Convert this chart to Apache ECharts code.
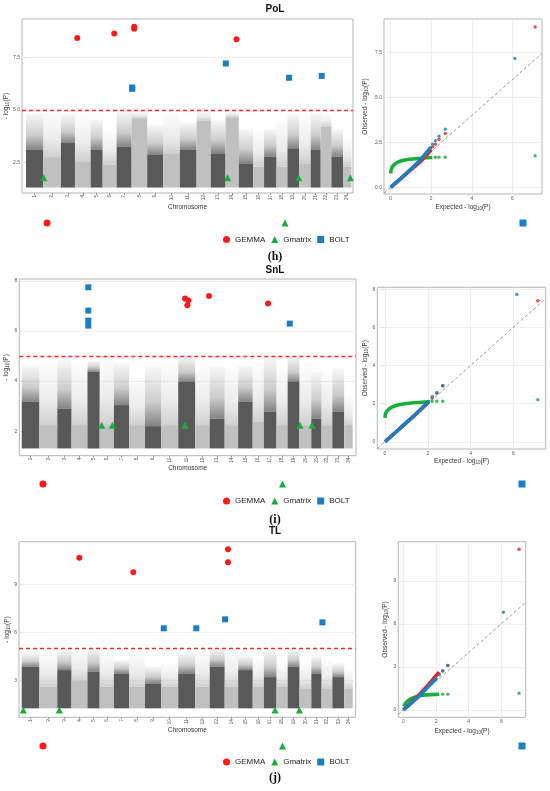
<!DOCTYPE html>
<html>
<head>
<meta charset="utf-8">
<script src="https://cdn.jsdelivr.net/npm/echarts@6/dist/echarts.min.js"></script>
<style>
  html, body { margin: 0; padding: 0; background: #fff; }
  #chart { width: 550px; height: 791px; }
</style>
</head>
<body>
<div id="chart"></div>
<script>
const chromosomes = [1, 2, 3, 4, 5, 6, 7, 8, 9, 10, 11, 12, 13, 14, 15, 16, 17, 18, 19, 20, 21, 22, 23, 24]
const chrLen = [173, 177, 140, 157, 120, 140, 150, 156, 160, 167, 167, 143, 147, 133, 143, 110, 124, 110, 116, 117, 100, 107, 116, 84]

// background SNP cloud per chromosome: top of the dense part and top of the sparse part
const densePoL = [3.09, 2.75, 3.42, 2.55, 3.09, 2.4, 3.24, 4.6, 2.85, 2.93, 3.09, 4.5, 2.93, 4.65, 2.45, 2.3, 2.77, 2.3, 3.17, 2.45, 3.09, 4.2, 2.77, 2.3]
const maxPoL = [4.85, 4.85, 4.8, 4.7, 4.55, 3.95, 4.95, 4.95, 4.27, 4.8, 4.4, 4.95, 4.5, 4.95, 4.1, 3.95, 4.1, 4.5, 4.8, 4.7, 4.85, 4.8, 4.1, 3.6]
const denseSnL = [3.17, 2.24, 2.9, 2.24, 4.36, 2.24, 3.04, 2.24, 2.2, 2.24, 3.96, 2.24, 2.5, 2.24, 3.17, 2.38, 2.77, 2.24, 3.96, 2.24, 2.5, 2.24, 2.77, 2.24]
const maxSnL = [4.63, 4.7, 4.83, 4.6, 4.8, 5.0, 4.7, 4.1, 4.6, 4.7, 5.0, 4.6, 4.6, 4.5, 4.6, 4.6, 5.0, 4.5, 5.0, 4.6, 4.36, 4.36, 4.5, 3.4]
const denseTL = [3.85, 2.6, 3.64, 3.0, 3.54, 2.6, 3.43, 2.6, 2.8, 2.6, 3.43, 2.6, 3.85, 2.6, 3.64, 2.6, 3.2, 2.6, 3.85, 2.5, 3.43, 2.5, 3.2, 2.5]
const maxTL = [4.69, 4.6, 4.9, 4.9, 5.0, 4.7, 4.27, 4.7, 3.85, 4.06, 4.7, 4.7, 5.0, 4.9, 4.5, 4.27, 4.9, 4.06, 4.9, 4.06, 4.5, 4.27, 4.06, 3.64]

// significant hits [genome position, -log10(P)]
const gemmaPoL = [[513, 8.43], [883, 8.64], [1083, 8.96], [1083, 8.86], [2107, 8.36]]
const boltPoL = [[1063, 6.07], [1063, 6.0], [2000, 7.21], [2633, 6.53], [2960, 6.62]]
const gmatrixPoL = [[177, 1.77], [2017, 1.77], [2730, 1.77], [3247, 1.77]]
const gemmaSnL = [[1607, 7.29], [1640, 7.21], [1630, 7.02], [1843, 7.39], [2425, 7.09]]
const boltSnL = [[655, 7.74], [655, 6.81], [655, 6.41], [655, 6.21], [2638, 6.29]]
const gmatrixSnL = [[787, 2.23], [892, 2.23], [1607, 2.23], [2739, 2.23], [2857, 2.23]]
const gemmaTL = [[567, 10.66], [1098, 9.75], [2030, 11.19], [2030, 10.37]]
const boltTL = [[1398, 6.25], [1718, 6.25], [2001, 6.81], [2959, 6.62]]
const gmatrixTL = [[16, 1.14], [370, 1.14], [2493, 1.14], [2732, 1.14]]

// QQ plots: dense part of each curve, then the separate tail points
const qqGemmaPoL = [[0, 0], [0.5, 0.48], [1, 0.98], [1.5, 1.47], [1.8, 1.84], [2.0, 2.1]]
const qqGemmaPoLTail = [[2.07, 2.26], [2.2, 2.4], [2.38, 2.66], [2.69, 3.0], [7.12, 8.92]]
const qqBoltPoL = [[0, 0], [0.5, 0.5], [1, 1.02], [1.5, 1.58], [1.8, 1.98], [2.0, 2.25]]
const qqBoltPoLTail = [[2.07, 2.4], [2.2, 2.59], [2.38, 2.85], [2.69, 3.24], [6.12, 7.17]]
const qqGmatrixPoL = [[0, 0.78], [0.03, 1.0], [0.12, 1.2], [0.35, 1.4], [0.7, 1.52], [1.1, 1.58], [1.6, 1.63], [2.05, 1.66]]
const qqGmatrixPoLTail = [[2.2, 1.67], [2.38, 1.67], [2.69, 1.67], [7.12, 1.76]]

const qqGemmaSnL = [[0, 0], [0.5, 0.5], [1, 1.0], [1.5, 1.5], [2.0, 2.03]]
const qqGemmaSnLTail = [[2.2, 2.3], [2.42, 2.55], [2.7, 2.95], [7.14, 7.4]]
const qqBoltSnL = [[0, 0], [0.5, 0.5], [1, 1.0], [1.5, 1.52], [2.05, 2.12]]
const qqBoltSnLTail = [[2.21, 2.37], [2.42, 2.58], [2.7, 2.93], [6.16, 7.72]]
const qqGmatrixSnL = [[0, 1.25], [0.02, 1.45], [0.1, 1.62], [0.3, 1.8], [0.7, 1.95], [1.2, 2.03], [1.7, 2.07], [2.1, 2.1]]
const qqGmatrixSnLTail = [[2.2, 2.12], [2.42, 2.12], [2.7, 2.13], [7.14, 2.2]]

const qqGemmaTL = [[0, 0], [0.5, 0.55], [1, 1.1], [1.5, 1.72], [2.0, 2.38], [2.2, 2.62]]
const qqGemmaTLTail = [[2.41, 2.72], [2.72, 3.1], [7.08, 11.2]]
const qqBoltTL = [[0, 0], [0.5, 0.5], [1, 1.02], [1.5, 1.6], [2.05, 2.25]]
const qqBoltTLTail = [[2.2, 2.45], [2.41, 2.73], [2.72, 3.1], [6.12, 6.8]]
const qqGmatrixTL = [[0.03, 0.25], [0.15, 0.5], [0.4, 0.75], [0.8, 0.93], [1.2, 1.02], [1.7, 1.07], [2.2, 1.1]]
const qqGmatrixTLTail = [[2.41, 1.1], [2.72, 1.1], [7.08, 1.16]]

// tick labels
const ticksPoL = [2.5, 5.0, 7.5]
const ticksSnL = [2, 4, 6, 8]
const ticksTL = [3, 6, 9]
const qqTicksPoL = [0, 2.5, 5.0, 7.5]
const qqTicksSnL = [0, 2, 4, 6, 8]
const qqTicksTL = [0, 3, 6, 9]
const qqTicksX = [0, 2, 4, 6]
const threshold = 5

const methods = ['GEMMA', 'Gmatrix', 'BOLT']
const colors = { GEMMA: '#ff1a1a', Gmatrix: '#1aad3c', BOLT: '#1b7ec2' }
const icons = { GEMMA: 'circle', Gmatrix: 'triangle', BOLT: 'rect' }
const FONT = 'Liberation Sans'

// cumulative chromosome spans
const chrStart = []
let acc = 0
chrLen.forEach(l => { chrStart.push(acc); acc += l })
const chrCenter = chrStart.map((s, i) => s + chrLen[i] / 2)

function blockRenderer(base) {
  return function (params, api) {
    const p0 = api.coord([api.value(0), base])
    const p1 = api.coord([api.value(1), api.value(2)])
    const p2 = api.coord([api.value(1), api.value(3)])
    const rgb = params.dataIndex % 2 === 0 ? '89,89,89' : '192,192,192'
    const w = p1[0] - p0[0]
    return {
      type: 'group',
      children: [
        {
          type: 'rect',
          shape: { x: p0[0], y: p2[1], width: w, height: p1[1] - p2[1] },
          style: {
            fill: new echarts.graphic.LinearGradient(0, 0, 0, 1, [
              { offset: 0, color: 'rgba(' + rgb + ',0.04)' },
              { offset: 0.6, color: 'rgba(' + rgb + ',0.3)' },
              { offset: 1, color: 'rgba(' + rgb + ',0.75)' }
            ])
          }
        },
        {
          type: 'rect',
          shape: { x: p0[0], y: p1[1], width: w, height: p0[1] - p1[1] },
          style: { fill: 'rgb(' + rgb + ')' }
        }
      ]
    }
  }
}

const grid = []
const xAxis = []
const yAxis = []
const series = []
const legend = []
const title = []

function gridLines(values, dim) {
  return {
    silent: true, z: 1, symbol: ['none', 'none'], animation: false,
    label: { show: false },
    lineStyle: { color: '#ebebeb', type: 'solid', width: 0.8 },
    data: values.map(v => ({ [dim]: v }))
  }
}

function axisName(text, extra) {
  return Object.assign({
    name: text,
    nameLocation: 'middle',
    nameMoveOverlap: false,
    nameTextStyle: {
      fontFamily: FONT, fontSize: 6.5, color: '#333',
      rich: { s: { fontFamily: FONT, fontSize: 4.5, color: '#333', padding: [3, 0, 0, 0] } }
    }
  }, extra)
}

function valueAxis(gi, min, max, ticks, digits, show, extra) {
  return Object.assign({
    type: 'value', gridIndex: gi, min: min, max: max,
    axisLine: { show: false },
    splitLine: { show: false },
    axisTick: { show: show, customValues: ticks, length: 2, lineStyle: { color: '#555', width: 0.6 } },
    axisLabel: {
      show: show, customValues: ticks, fontFamily: FONT, fontSize: 5, color: '#555', margin: 2,
      formatter: v => Number(v).toFixed(digits)
    }
  }, extra)
}

function boxGrid(rect) {
  return Object.assign({
    show: true, borderColor: '#b5b5b5', borderWidth: 1, backgroundColor: '#fff',
    outerBoundsMode: 'none', containLabel: false
  }, rect)
}

function addPanel(p) {
  // Manhattan
  const gm = grid.length
  grid.push(boxGrid(p.man))
  xAxis.push(valueAxis(gm, p.manX[0], p.manX[1], chrCenter, 0, true, axisName('Chromosome', { nameGap: p.gaps[1] })))
  xAxis[gm].axisLabel.formatter = v => {
    const i = chrCenter.findIndex(c => Math.abs(c - v) < 1e-6)
    return i < 0 ? '' : String(chromosomes[i])
  }
  xAxis[gm].axisLabel.rotate = 90
  xAxis[gm].axisLabel.fontSize = 4.5
  yAxis.push(valueAxis(gm, p.manY[0], p.manY[1], p.manTicks, p.digits, true,
    axisName('- log{s|10}(P)', { nameGap: p.gaps[0] })))

  series.push({
    type: 'custom', name: 'SNPs', xAxisIndex: gm, yAxisIndex: gm, silent: true,
    renderItem: blockRenderer(p.base),
    encode: { x: [0, 1], y: [2, 3] },
    data: chrStart.map((s, i) => [s, s + chrLen[i], p.dense[i], p.max[i]])
  })
  const hits = { GEMMA: p.gemma, Gmatrix: p.gmatrix, BOLT: p.bolt }
  methods.forEach(m => {
    const s = {
      type: 'scatter', name: m, xAxisIndex: gm, yAxisIndex: gm, z: 3,
      symbol: icons[m], symbolSize: m === 'Gmatrix' ? 7 : 6,
      itemStyle: { color: colors[m], opacity: 1 },
      data: hits[m]
    }
    if (m === 'GEMMA') s.markLine = gridLines(p.manTicks, 'yAxis')
    if (m === 'BOLT') {
      s.markLine = {
        silent: true, symbol: ['none', 'none'], animation: false, label: { show: false },
        lineStyle: { color: '#ff2a2a', type: [4, 3], width: 1.3 },
        data: [{ yAxis: threshold }]
      }
    }
    series.push(s)
  })

  // QQ
  const gq = grid.length
  grid.push(boxGrid(p.qq))
  xAxis.push(valueAxis(gq, p.qqX[0], p.qqX[1], qqTicksX, 0, true,
    axisName('Expected - log{s|10}(P)', { nameGap: p.gaps[3] })))
  yAxis.push(valueAxis(gq, p.qqY[0], p.qqY[1], p.qqTicks, p.digits, true,
    axisName('Observed - log{s|10}(P)', { nameGap: p.gaps[2] })))
  series.push({
    type: 'line', name: 'expected', xAxisIndex: gq, yAxisIndex: gq, silent: true, z: 2,
    symbol: 'none', data: [[p.qqX[0], p.qqX[0]], [p.qqX[1], p.qqX[1]]],
    lineStyle: { color: '#8a8a8a', type: [3, 2.5], width: 0.9 },
    markLine: {
      silent: true, z: 1, symbol: ['none', 'none'], animation: false, label: { show: false },
      lineStyle: { color: '#ebebeb', type: 'solid', width: 0.8 },
      data: p.qqTicks.map(v => ({ yAxis: v })).concat(qqTicksX.map(v => ({ xAxis: v })))
    }
  })
  const curves = { GEMMA: p.qqGemma, Gmatrix: p.qqGmatrix, BOLT: p.qqBolt }
  const tails = { GEMMA: p.qqGemmaTail, Gmatrix: p.qqGmatrixTail, BOLT: p.qqBoltTail }
  ;['Gmatrix', 'GEMMA', 'BOLT'].forEach(m => {
    series.push({
      type: 'line', name: m, xAxisIndex: gq, yAxisIndex: gq, z: 3, symbol: 'none', smooth: 0.3,
      lineStyle: { color: colors[m], width: 3.6 }, itemStyle: { color: colors[m] },
      data: curves[m]
    })
    series.push({
      type: 'scatter', name: m, xAxisIndex: gq, yAxisIndex: gq, z: 3, symbolSize: 3.5,
      itemStyle: { color: colors[m] }, data: tails[m]
    })
  })

  // legends: the stray key symbols and the proper key
  legend.push({
    left: p.strayLeft, top: p.strayTop, padding: 0, itemWidth: 7, itemHeight: 7, itemGap: p.strayGap,
    selectedMode: false, formatter: () => '', textStyle: { fontSize: 1 },
    data: methods.map(m => ({ name: m, icon: icons[m] }))
  })
  legend.push({
    left: 223, top: p.legendTop, padding: 0, itemWidth: 7, itemHeight: 7, itemGap: 6,
    selectedMode: false, textStyle: { fontFamily: FONT, fontSize: 8, color: '#222' },
    data: methods.map(m => ({ name: m, icon: icons[m] }))
  })

  title.push({
    text: p.title, left: 'center', top: p.titleTop, padding: 0,
    textStyle: { fontFamily: FONT, fontSize: 10, fontWeight: 'bold', color: '#111' }
  })
  title.push({
    text: p.label, left: 'center', top: p.labelTop, padding: 0,
    textStyle: { fontFamily: 'Liberation Serif', fontSize: 12, fontWeight: 'bold', color: '#111' }
  })
}

addPanel({
  title: 'PoL', titleTop: 4, label: '(h)', labelTop: 251,
  man: { left: 22, top: 19, width: 331, height: 174 },
  manX: [-40, 3273], manY: [1.04, 9.33], manTicks: ticksPoL, digits: 1, base: 1.3,
  dense: densePoL, max: maxPoL, gemma: gemmaPoL, bolt: boltPoL, gmatrix: gmatrixPoL,
  qq: { left: 384, top: 19, width: 158, height: 175 },
  qqX: [-0.33, 7.46], qqY: [-0.37, 9.37], qqTicks: qqTicksPoL,
  qqGemma: qqGemmaPoL, qqGemmaTail: qqGemmaPoLTail, qqBolt: qqBoltPoL, qqBoltTail: qqBoltPoLTail,
  qqGmatrix: qqGmatrixPoL, qqGmatrixTail: qqGmatrixPoLTail,
  gaps: [12, 11, 15, 9.5],
  strayLeft: 43.5, strayTop: 219.5, strayGap: 231, legendTop: 235.5
})
addPanel({
  title: 'SnL', titleTop: 265, label: '(i)', labelTop: 514,
  man: { left: 19.3, top: 279, width: 336.7, height: 176.7 },
  manX: [-24, 3290], manY: [1.02, 8.07], manTicks: ticksSnL, digits: 0, base: 1.31,
  dense: denseSnL, max: maxSnL, gemma: gemmaSnL, bolt: boltSnL, gmatrix: gmatrixSnL,
  qq: { left: 377.3, top: 287.3, width: 168.4, height: 161.7 },
  qqX: [-0.36, 7.51], qqY: [-0.38, 8.1], qqTicks: qqTicksSnL,
  qqGemma: qqGemmaSnL, qqGemmaTail: qqGemmaSnLTail, qqBolt: qqBoltSnL, qqBoltTail: qqBoltSnLTail,
  qqGmatrix: qqGmatrixSnL, qqGmatrixTail: qqGmatrixSnLTail,
  gaps: [9.5, 9.5, 8.5, 8],
  strayLeft: 39.5, strayTop: 480.5, strayGap: 232.5, legendTop: 497
})
addPanel({
  title: 'TL', titleTop: 526, label: '(j)', labelTop: 772,
  man: { left: 19, top: 541.7, width: 336.7, height: 175.6 },
  manX: [-26.6, 3286.5], manY: [0.69, 11.66], manTicks: ticksTL, digits: 0, base: 1.25,
  dense: denseTL, max: maxTL, gemma: gemmaTL, bolt: boltTL, gmatrix: gmatrixTL,
  qq: { left: 398.3, top: 541.7, width: 127.4, height: 175.6 },
  qqX: [-0.31, 7.49], qqY: [-0.51, 11.72], qqTicks: qqTicksTL,
  qqGemma: qqGemmaTL, qqGemmaTail: qqGemmaTLTail, qqBolt: qqBoltTL, qqBoltTail: qqBoltTLTail,
  qqGmatrix: qqGmatrixTL, qqGmatrixTail: qqGmatrixTLTail,
  gaps: [8, 9, 9.5, 10],
  strayLeft: 39.5, strayTop: 742.5, strayGap: 232.5, legendTop: 758
})

const chart = echarts.init(document.getElementById('chart'))
chart.setOption({
  animation: false,
  backgroundColor: '#fff',
  title: title,
  legend: legend,
  grid: grid,
  xAxis: xAxis,
  yAxis: yAxis,
  series: series
})
</script>
</body>
</html>
